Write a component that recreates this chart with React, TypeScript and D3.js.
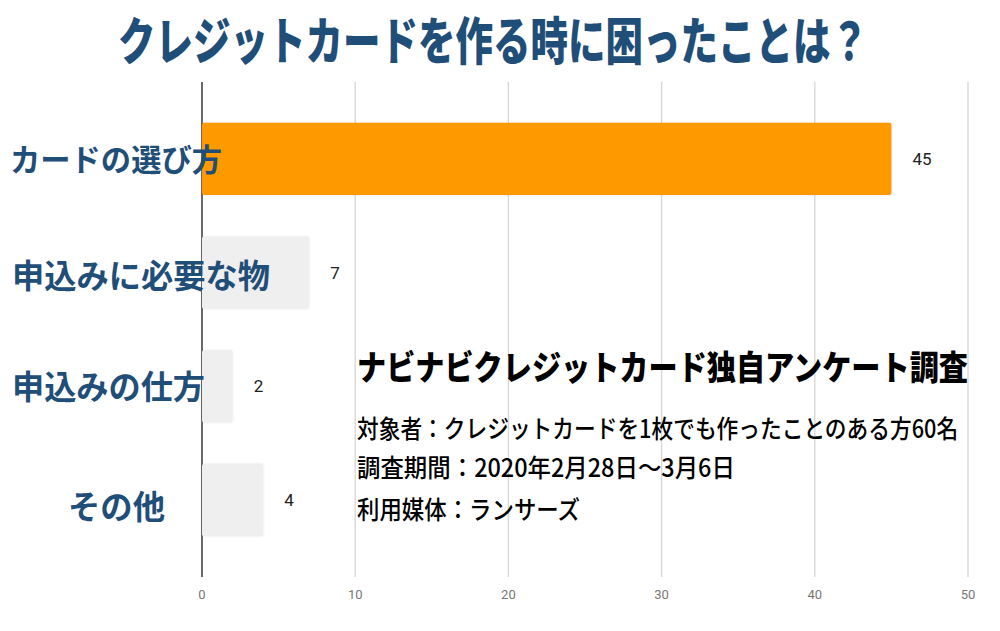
import React, { useLayoutEffect, useRef, useState } from "react";
import * as d3 from "d3";

const categories = ["カードの選び方", "申込みに必要な物", "申込みの仕方", "その他"];
const values = [45, 7, 2, 4];
const xTicks = [0, 10, 20, 30, 40, 50];
const title = "クレジットカードを作る時に困ったことは？";
const noteTitle = "ナビナビクレジットカード独自アンケート調査";
const noteLines = [
  "対象者：クレジットカードを1枚でも作ったことのある方60名",
  "調査期間：2020年2月28日～3月6日",
  "利用媒体：ランサーズ",
];

// layout (not data)
const W = 1000;
const H = 631;
const labelLayout = [
  { x: 10, w: 212, size: 31, dy: 0 },
  { x: 12, w: 258, size: 33, dy: 3 },
  { x: 12, w: 193, size: 33, dy: 0 },
  { x: 68, w: 97, size: 33, dy: 6 },
];
const noteLayout = [
  { y: 438, w: 601 },
  { y: 477, w: 378 },
  { y: 519, w: 223 },
];
const BLUE = "#1f4e79";
const FONT = "'Noto Sans CJK JP', 'Noto Sans', sans-serif";

type FitProps = {
  x: number;
  y: number;
  width: number;
  size: number;
  weight: number;
  fill: string;
  sy?: number;
  children: string;
};

function FitText({ x, y, width, size, weight, fill, sy = 1, children }: FitProps) {
  const ref = useRef<SVGTextElement>(null);
  const [k, setK] = useState(width / (size * children.length));
  useLayoutEffect(() => {
    if (ref.current) {
      const natural = ref.current.getComputedTextLength();
      if (natural > 0) setK(width / natural);
    }
  }, [width, children, size]);
  return (
    <g transform={`translate(${x},${y}) scale(${k},${sy})`}>
      <text
        ref={ref}
        x={0}
        y={0}
        fontFamily={FONT}
        fontWeight={weight}
        fontSize={size}
        fill={fill}
      >
        {children}
      </text>
    </g>
  );
}

export default function App() {
  const x = d3.scaleLinear().domain([0, 50]).range([202, 968]);
  const y = d3
    .scaleBand<string>()
    .domain(categories)
    .range([102, 557])
    .paddingInner(0.366)
    .paddingOuter(0.183);
  const colors = values.map((v, i) => (i === 0 ? "#ff9900" : "#efefef"));

  return (
    <svg width={W} height={H} style={{ display: "block", position: "absolute", left: 0, top: 0 }}>
      <defs>
        <filter id="sh" x="-10%" y="-10%" width="120%" height="120%">
          <feGaussianBlur in="SourceAlpha" stdDeviation="1" />
          <feComponentTransfer>
            <feFuncA type="linear" slope="0.12" />
          </feComponentTransfer>
          <feMerge>
            <feMergeNode />
            <feMergeNode in="SourceGraphic" />
          </feMerge>
        </filter>
      </defs>
      <rect width={W} height={H} fill="#ffffff" />
      {/* title */}
      <FitText x={118} y={60} width={750} size={40} sy={1.27} weight={900} fill={BLUE}>
        {title}
      </FitText>
      {/* gridlines */}
      {xTicks.map((t) => (
        <line
          key={t}
          x1={x(t)}
          x2={x(t)}
          y1={82}
          y2={577}
          stroke={t === 0 ? "#444" : "#d6d6d6"}
          strokeWidth={t === 0 ? 1.6 : 1.3}
        />
      ))}
      {xTicks.map((t) => (
        <text
          key={"t" + t}
          x={x(t)}
          y={599}
          textAnchor="middle"
          fontFamily="Roboto, sans-serif"
          fontSize={13}
          fill="#777"
        >
          {t}
        </text>
      ))}
      {/* bars */}
      {categories.map((c, i) => (
        <rect
          key={c}
          x={x(0)}
          y={y(c)}
          width={x(values[i]) - x(0)}
          height={y.bandwidth()}
          rx={2}
          fill={colors[i]}
          filter="url(#sh)"
        />
      ))}
      {categories.map((c, i) => (
        <text
          key={"v" + c}
          x={x(values[i]) + 21}
          y={(y(c) ?? 0) + y.bandwidth() / 2 + 6}
          fontFamily="Roboto, sans-serif"
          fontSize={17}
          fill="#222"
        >
          {values[i]}
        </text>
      ))}
      {/* category labels */}
      {categories.map((c, i) => (
        <FitText
          key={"l" + c}
          x={labelLayout[i].x}
          y={(y(c) ?? 0) + y.bandwidth() / 2 + labelLayout[i].size * 0.38 + labelLayout[i].dy}
          width={labelLayout[i].w}
          size={labelLayout[i].size}
          weight={700}
          fill={BLUE}
        >
          {c}
        </FitText>
      ))}
      {/* annotation */}
      <FitText x={357} y={380} width={611} size={34} weight={900} fill="#000">
        {noteTitle}
      </FitText>
      {noteLines.map((t, i) => (
        <FitText
          key={t}
          x={357}
          y={noteLayout[i].y}
          width={noteLayout[i].w}
          size={25}
          weight={500}
          fill="#000"
        >
          {t}
        </FitText>
      ))}
    </svg>
  );
}
